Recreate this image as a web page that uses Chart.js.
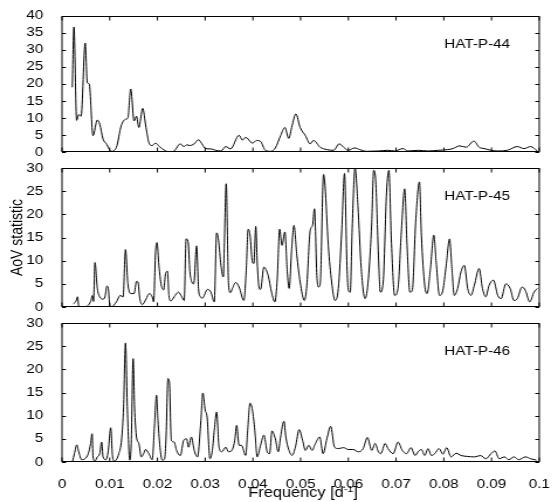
<!DOCTYPE html>
<html>
<head>
<meta charset="utf-8">
<title>AoV periodograms</title>
<script src="https://cdn.jsdelivr.net/npm/chart.js@4.4.0/dist/chart.umd.min.js"></script>
<style>
  html, body { margin: 0; padding: 0; background: #fff; }
  #wrap { position: relative; width: 558px; height: 502px; overflow: hidden; }
  #wrap canvas { position: absolute; left: 0; top: 0; }
</style>
</head>
<body>
<div id="wrap">
  <!-- the source figure is stretched sideways, so draw narrow and widen with inline css -->
  <canvas id="p44" width="477" height="502" style="width:558px;height:502px"></canvas>
  <canvas id="p45" width="477" height="502" style="width:558px;height:502px"></canvas>
  <canvas id="p46" width="477" height="502" style="width:558px;height:502px"></canvas>
</div>
<script>
// ===== data (frequency in 1/d, AoV statistic) =====
const hp44Freq = [0.00215, 0.0025, 0.00306, 0.0035, 0.004, 0.00486, 0.0053, 0.0057, 0.0065, 0.0074,
  0.0079, 0.0086, 0.0093, 0.0103, 0.0114, 0.0124, 0.0133, 0.0138, 0.0144, 0.0151,
  0.0156, 0.0161, 0.0169, 0.0176, 0.0183, 0.0189, 0.0196, 0.0204, 0.0215, 0.0225,
  0.0235, 0.0248, 0.0255, 0.0262, 0.0268, 0.0277, 0.0286, 0.0293, 0.0301, 0.0312,
  0.0322, 0.0333, 0.0343, 0.0353, 0.0371, 0.0378, 0.0385, 0.0399, 0.0408, 0.0416,
  0.0426, 0.0437, 0.0447, 0.0458, 0.0467, 0.0475, 0.0482, 0.049, 0.0499, 0.051,
  0.052, 0.0527, 0.0541, 0.0555, 0.0569, 0.0581, 0.059, 0.06, 0.0613, 0.0624,
  0.0638, 0.0663, 0.0683, 0.0697, 0.0714, 0.0725, 0.0746, 0.0767, 0.0788, 0.0808,
  0.0819, 0.0833, 0.0847, 0.0863, 0.0874, 0.0885, 0.0899, 0.0913, 0.0933, 0.0954,
  0.0968, 0.0982, 0.0996];
const hp44Aov = [19, 36.7, 9.3, 11, 10.5, 32, 20.3, 20, 4.8, 9.4,
  8.2, 3.8, 2.4, 0.2, 1.4, 7.7, 9.6, 10, 18.5, 9.1,
  10.5, 7.2, 12.8, 7.2, 2.4, 1.9, 2.6, 1.6, 0.5, 0,
  0.3, 2.4, 1.6, 2.1, 1.9, 2.4, 3.6, 2.4, 1, 0.9,
  0.5, 0.3, 1.6, 0.9, 4.9, 3.5, 4.3, 2.6, 3.4, 3.1,
  0.5, 0.2, 1.2, 4.8, 7.2, 4, 7.7, 11.2, 7.2, 4.8,
  2.4, 3.4, 1.4, 0.7, 0.5, 2.4, 1.4, 0.5, 1.2, 0.7,
  0.2, 0.3, 0.5, 0.3, 1, 0.3, 0.5, 0.3, 0.5, 0.7,
  1, 1.8, 1.4, 3.2, 1.4, 1, 0.5, 0.3, 0.5, 1.6,
  1, 1.6, 0.3];

const hp45Freq = [0.00236, 0.0029, 0.00326, 0.0035, 0.0044, 0.0053, 0.006, 0.0064, 0.0066, 0.0069,
  0.0074, 0.0079, 0.0086, 0.009, 0.0094, 0.0097, 0.01, 0.0103, 0.0114, 0.0122,
  0.0128, 0.0133, 0.0138, 0.0145, 0.0151, 0.0156, 0.0159, 0.0163, 0.0168, 0.0176,
  0.0183, 0.0189, 0.0192, 0.0196, 0.0199, 0.0203, 0.0208, 0.0213, 0.0217, 0.0221,
  0.0224, 0.0228, 0.0235, 0.0244, 0.0251, 0.0256, 0.026, 0.0264, 0.0268, 0.0272,
  0.0276, 0.0282, 0.0286, 0.029, 0.0294, 0.0305, 0.0312, 0.0319, 0.0324, 0.0328,
  0.0333, 0.0338, 0.034, 0.0344, 0.0349, 0.0353, 0.0357, 0.0364, 0.0371, 0.0381,
  0.0386, 0.039, 0.0394, 0.0399, 0.0402, 0.0406, 0.0409, 0.0413, 0.0416, 0.0423,
  0.0432, 0.0439, 0.0446, 0.0451, 0.0456, 0.0461, 0.0467, 0.0472, 0.0476, 0.0481,
  0.0486, 0.0492, 0.0499, 0.0508, 0.0513, 0.052, 0.0525, 0.0529, 0.0534, 0.0537,
  0.0541, 0.0548, 0.0551, 0.0558, 0.0565, 0.0572, 0.0579, 0.0586, 0.0592, 0.0597,
  0.06, 0.0604, 0.0608, 0.0614, 0.062, 0.0627, 0.0635, 0.0642, 0.0649, 0.0653,
  0.0657, 0.0663, 0.0667, 0.0673, 0.068, 0.0685, 0.069, 0.0697, 0.0704, 0.0711,
  0.0718, 0.0723, 0.0729, 0.0734, 0.0741, 0.0749, 0.0753, 0.076, 0.0765, 0.0772,
  0.0779, 0.0784, 0.0791, 0.0798, 0.0805, 0.0812, 0.0817, 0.0822, 0.0829, 0.0836,
  0.0843, 0.085, 0.0857, 0.0864, 0.0874, 0.0881, 0.0888, 0.0895, 0.0904, 0.0913,
  0.092, 0.093, 0.0939, 0.0947, 0.0954, 0.0964, 0.0971, 0.098, 0.0989, 0.0996];
const hp45Aov = [0.7, 1.2, 2.2, 0.2, 0, 0.2, 1.2, 2.5, 1.2, 9.6,
  4, 2.2, 1.7, 2.2, 4.5, 4, 0.4, 0, 1.1, 2.5,
  2.2, 12.4, 5, 2.9, 2.9, 5.5, 5.4, 1.8, 0.5, 1.7,
  2.9, 2.2, 1.1, 11.9, 13.9, 9, 4.7, 3.7, 7.2, 7.7,
  2.5, 1.3, 2.2, 3.2, 2.2, 1.4, 14.7, 14.2, 7.6, 5.4,
  5, 13.2, 4, 2.2, 1.9, 3.8, 3.2, 1.1, 16, 14.4,
  9, 6.5, 13, 26.6, 4.7, 3.1, 4, 5.3, 4.3, 1.4,
  7.9, 16.8, 15.5, 9.7, 9.4, 17.4, 9.7, 4.1, 3.8, 8.6,
  6.8, 3.2, 1.1, 6.1, 16.8, 13.3, 16.2, 7.6, 4, 12.2,
  17.6, 11.2, 5.4, 1.4, 4.7, 16.5, 17.6, 21.2, 6.8, 4.3,
  5, 28.6, 26.3, 13.3, 5.4, 1.4, 4, 16.2, 28.8, 9,
  3.6, 3.2, 16.9, 30, 21.9, 8.3, 1.8, 6.1, 18.3, 29.5,
  27.7, 11.2, 3.2, 5.4, 24.8, 29.5, 14.7, 2.5, 4, 16.2,
  25.5, 13.3, 3.2, 3.6, 18.3, 27, 15.5, 4.7, 2.9, 8.3,
  15.5, 9.7, 2.5, 3.6, 9, 14.7, 8.3, 2.5, 4, 7.6,
  9, 4, 2.5, 4.7, 8.3, 4, 2.2, 4.7, 5.8, 2.5,
  1.8, 5, 4, 1.4, 1.8, 4.3, 3.6, 1.1, 3.2, 4];

const hp46Freq = [0.0022, 0.0026, 0.0031, 0.0035, 0.0041, 0.0048, 0.0055, 0.006, 0.0063, 0.0065,
  0.0069, 0.0074, 0.0079, 0.0083, 0.0086, 0.0092, 0.0097, 0.0102, 0.0106, 0.011,
  0.0119, 0.0125, 0.0129, 0.0133, 0.0137, 0.0142, 0.0145, 0.0149, 0.0152, 0.0156,
  0.0161, 0.0166, 0.0171, 0.0175, 0.0182, 0.0189, 0.0194, 0.0198, 0.0201, 0.0206,
  0.021, 0.0215, 0.0218, 0.0222, 0.0225, 0.0229, 0.0235, 0.024, 0.0248, 0.0255,
  0.0261, 0.0265, 0.0271, 0.0277, 0.0284, 0.0291, 0.0295, 0.03, 0.0304, 0.031,
  0.0315, 0.0319, 0.0324, 0.0329, 0.0335, 0.0343, 0.0349, 0.0357, 0.0362, 0.0366,
  0.0371, 0.0376, 0.0385, 0.0389, 0.0394, 0.0399, 0.0404, 0.0409, 0.0416, 0.0423,
  0.043, 0.0435, 0.044, 0.0447, 0.0453, 0.0458, 0.0465, 0.0469, 0.0475, 0.0482,
  0.0489, 0.0497, 0.0504, 0.051, 0.0517, 0.0524, 0.0531, 0.054, 0.0547, 0.0555,
  0.0563, 0.0571, 0.0579, 0.059, 0.06, 0.061, 0.0621, 0.0631, 0.064, 0.0649,
  0.0656, 0.0663, 0.0668, 0.0677, 0.0683, 0.0694, 0.0704, 0.0713, 0.0722, 0.0731,
  0.074, 0.0746, 0.0753, 0.076, 0.0767, 0.0774, 0.0781, 0.079, 0.0798, 0.0806,
  0.0815, 0.0826, 0.0836, 0.085, 0.0864, 0.0877, 0.0888, 0.0899, 0.0907, 0.0916,
  0.0927, 0.0936, 0.0947, 0.0957, 0.0971, 0.0982, 0.0994];
const hp46Aov = [0.1, 1.8, 3.7, 2.2, 0.5, 0.7, 1.8, 4, 6.1, 1.1,
  0.2, 1.1, 1.8, 4.3, 1.1, 0.5, 2.5, 7.4, 1.1, 0.2,
  1.8, 5, 11.9, 25.7, 11.2, 0.4, 4, 22.3, 11.9, 5.4,
  4, 1.1, 1.8, 2.7, 1.8, 0.5, 8.3, 14.4, 9, 2.5,
  0.4, 0.7, 5.4, 18, 17.3, 4.7, 4.3, 2.5, 1.4, 4.7,
  5, 3.2, 5.4, 2.5, 1.1, 9, 14.9, 11.2, 9.7, 0.7,
  2.5, 6.8, 10.8, 3.2, 2.2, 3.2, 2.2, 2.7, 4.7, 7.9,
  3.6, 3.6, 1.4, 6.8, 12.7, 11.2, 6.8, 1.1, 3.6, 5.8,
  2.2, 1.8, 6.7, 5, 2.2, 5.4, 8.8, 5.4, 2.7, 1.4,
  3.2, 7, 4.7, 2.5, 3.6, 2.5, 4, 5.4, 1.8, 5,
  7.7, 3.2, 2.9, 3.1, 2.7, 2.7, 2.2, 2.9, 5.3, 2.5,
  4, 2.2, 1.8, 4, 2.9, 1.8, 4.3, 2.5, 1.8, 3.1,
  1.4, 2.2, 2.7, 1.4, 2.9, 1.4, 1.8, 2.9, 1.7, 3.1,
  1.1, 1.9, 1.4, 1.2, 1.1, 1.4, 0.7, 1.8, 2.4, 0.7,
  1.1, 0.5, 1.1, 0.5, 1.1, 0.7, 0.4];

// ===== ticks =====
const xTickValues = [0, 0.01, 0.02, 0.03, 0.04, 0.05, 0.06, 0.07, 0.08, 0.09, 0.1];
const xTickLabels = ["0", "0.01", "0.02", "0.03", "0.04", "0.05", "0.06", "0.07", "0.08", "0.09", "0.1"];
const yTicks44 = [0, 5, 10, 15, 20, 25, 30, 35, 40];
const yTicks45 = [0, 5, 10, 15, 20, 25, 30];
const yTicks46 = [0, 5, 10, 15, 20, 25, 30];

// ===== layout (canvas units; canvas is widened 558/477 by css) =====
const FAMILY = "'Liberation Sans', Arial, Helvetica, sans-serif";
const FONT = { family: FAMILY, size: 13 };
const TITLE_FONT = { family: FAMILY, size: 14 };
const Y_AXIS_W = 53;
const RIGHT_PAD = 14;
const X_AXIS_H = 40;
const TICK_LEN = 4;

function makePanel(id, freq, aov, yTicks, name, o) {
  const frame = {
    id: "frame",
    afterDraw(chart) {
      const { ctx, chartArea: a, scales: { x, y } } = chart;
      const top = Math.round(a.top) + 0.5;
      const bottom = Math.round(a.bottom) - 0.5;
      ctx.save();
      ctx.strokeStyle = "#000";
      ctx.lineWidth = 1;
      ctx.beginPath();
      y.ticks.forEach((t) => {
        const py = Math.round(y.getPixelForValue(t.value)) + 0.5;
        ctx.moveTo(a.left, py); ctx.lineTo(a.left + TICK_LEN * 0.85, py);
        ctx.moveTo(a.right, py); ctx.lineTo(a.right - TICK_LEN * 0.85, py);
      });
      x.ticks.forEach((t) => {
        const px = x.getPixelForValue(t.value);
        ctx.moveTo(px, top); ctx.lineTo(px, top + TICK_LEN);
        ctx.moveTo(px, bottom); ctx.lineTo(px, bottom - TICK_LEN);
      });
      ctx.stroke();
      ctx.strokeRect(a.left, top, a.right - a.left, bottom - top);

      // panel name, upper right
      ctx.fillStyle = "#000";
      ctx.font = "13px " + FAMILY;
      ctx.textAlign = "right";
      ctx.textBaseline = "middle";
      ctx.fillText(name, a.right - 25, a.top + 28.5);

      // x axis title with superscript, bottom panel only
      if (o.showX) {
        const main = "Frequency [d", sup = "-1", end = "]";
        ctx.textBaseline = "alphabetic";
        ctx.textAlign = "left";
        ctx.font = "14px " + FAMILY;
        const w1 = ctx.measureText(main).width, w3 = ctx.measureText(end).width;
        ctx.font = "9px " + FAMILY;
        const w2 = ctx.measureText(sup).width;
        const cx = (a.left + a.right) / 2 + 2, base = 497;
        let xx = cx - (w1 + w2 + w3) / 2;
        ctx.font = "14px " + FAMILY;
        ctx.fillText(main, xx, base); xx += w1;
        ctx.font = "9px " + FAMILY;
        ctx.fillText(sup, xx, base - 5.5); xx += w2;
        ctx.font = "14px " + FAMILY;
        ctx.fillText(end, xx, base);
      }
      ctx.restore();
    }
  };

  return new Chart(document.getElementById(id), {
    type: "line",
    data: {
      datasets: [{
        data: freq.map((f, i) => ({ x: f, y: aov[i] })),
        borderColor: "#000",
        borderWidth: 1,
        pointRadius: 0,
        fill: false,
        cubicInterpolationMode: "monotone"
      }]
    },
    options: {
      responsive: false,
      animation: false,
      events: [],
      layout: { padding: { top: o.top, bottom: o.bottom, left: 0, right: RIGHT_PAD } },
      plugins: { legend: { display: false }, tooltip: { enabled: false } },
      scales: {
        x: {
          type: "linear", min: 0, max: 0.1,
          grid: { display: false }, border: { display: false },
          afterBuildTicks: (s) => { s.ticks = xTickValues.map((v) => ({ value: v })); },
          afterFit: (s) => { s.height = o.showX ? X_AXIS_H : 0; },
          ticks: {
            display: o.showX, padding: 7, maxRotation: 0, autoSkip: false,
            font: FONT, color: "#000",
            callback: (v, i) => xTickLabels[i]
          }
        },
        y: {
          type: "linear", min: 0, max: yTicks[yTicks.length - 1],
          grid: { display: false }, border: { display: false },
          afterBuildTicks: (s) => { s.ticks = yTicks.map((v) => ({ value: v })); },
          afterFit: (s) => { s.width = Y_AXIS_W; },
          ticks: { padding: 8, autoSkip: false, font: FONT, color: "#000" },
          title: {
            display: !!o.yTitle, text: "AoV statistic", font: TITLE_FONT, color: "#000",
            padding: { top: 7, bottom: 0 }
          }
        }
      }
    },
    plugins: [frame]
  });
}

makePanel("p44", hp44Freq, hp44Aov, yTicks44, "HAT-P-44", { top: 13, bottom: 350 });
makePanel("p45", hp45Freq, hp45Aov, yTicks45, "HAT-P-45", { top: 168, bottom: 195, yTitle: true });
makePanel("p46", hp46Freq, hp46Aov, yTicks46, "HAT-P-46", { top: 323, bottom: 0, showX: true });
</script>
</body>
</html>
